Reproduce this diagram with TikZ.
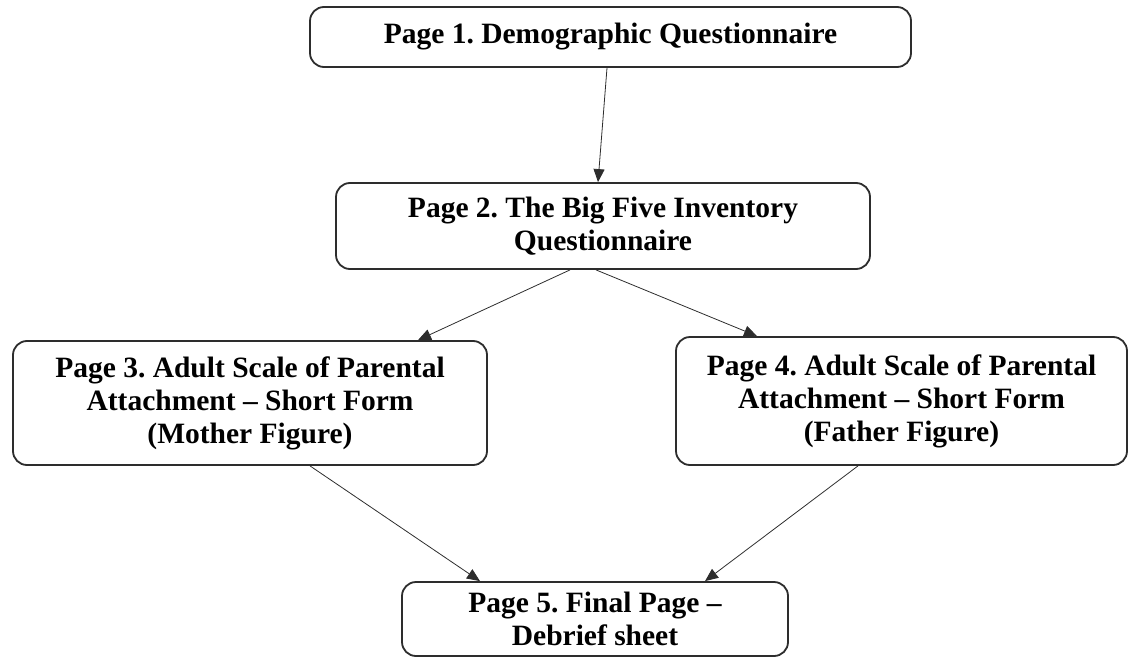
\documentclass[tikz,border=0pt]{standalone}
\usepackage{fontspec}
\setmainfont{Liberation Serif}
\usepackage{tikz}
\usetikzlibrary{arrows.meta, positioning}
\definecolor{edge}{RGB}{45, 45, 45}
\tikzstyle{pagebox} = [rectangle, rounded corners=14pt, draw=edge, line width=1.8pt, fill=white, align=center, font=\bfseries\fontsize{29.5}{33}\selectfont]
\tikzstyle{arrow} = [draw=edge, line width=0.8pt, -{Triangle[length=13pt, width=11pt]}]

\begin{document}
\frenchspacing
\begin{tikzpicture}[x=1pt, y=-1pt]
    \useasboundingbox (0,0) rectangle (1131,663);
    \node[pagebox, minimum width=601pt, minimum height=60pt] (p1) at (610.5, 37) {Page 1. Demographic Questionnaire};
    \node[pagebox, minimum width=534pt, minimum height=86pt] (p2) at (603, 226) {Page 2. The Big Five Inventory\\Questionnaire};
    \node[pagebox, minimum width=474pt, minimum height=124pt] (p3) at (250, 403) {Page 3. Adult Scale of Parental\\Attachment -- Short Form\\(Mother Figure)};
    \node[pagebox, minimum width=451pt, minimum height=128pt] (p4) at (901.5, 401) {Page 4. Adult Scale of Parental\\Attachment -- Short Form\\(Father Figure)};
    \node[pagebox, minimum width=386pt, minimum height=74pt] (p5) at (595, 619) {Page 5. Final Page --\\Debrief sheet};

    \draw[arrow] ([xshift=-3.5pt]p1.south) -- ([xshift=-5pt]p2.north);
    \draw[arrow] ([xshift=-33pt]p2.south) -- ([xshift=168pt]p3.north);
    \draw[arrow] ([xshift=-7pt]p2.south) -- ([xshift=-144.5pt]p4.north);
    \draw[arrow] ([xshift=60pt]p3.south) -- ([xshift=-115pt]p5.north);
    \draw[arrow] ([xshift=-43.5pt]p4.south) -- ([xshift=110pt]p5.north);
\end{tikzpicture}
\end{document}
